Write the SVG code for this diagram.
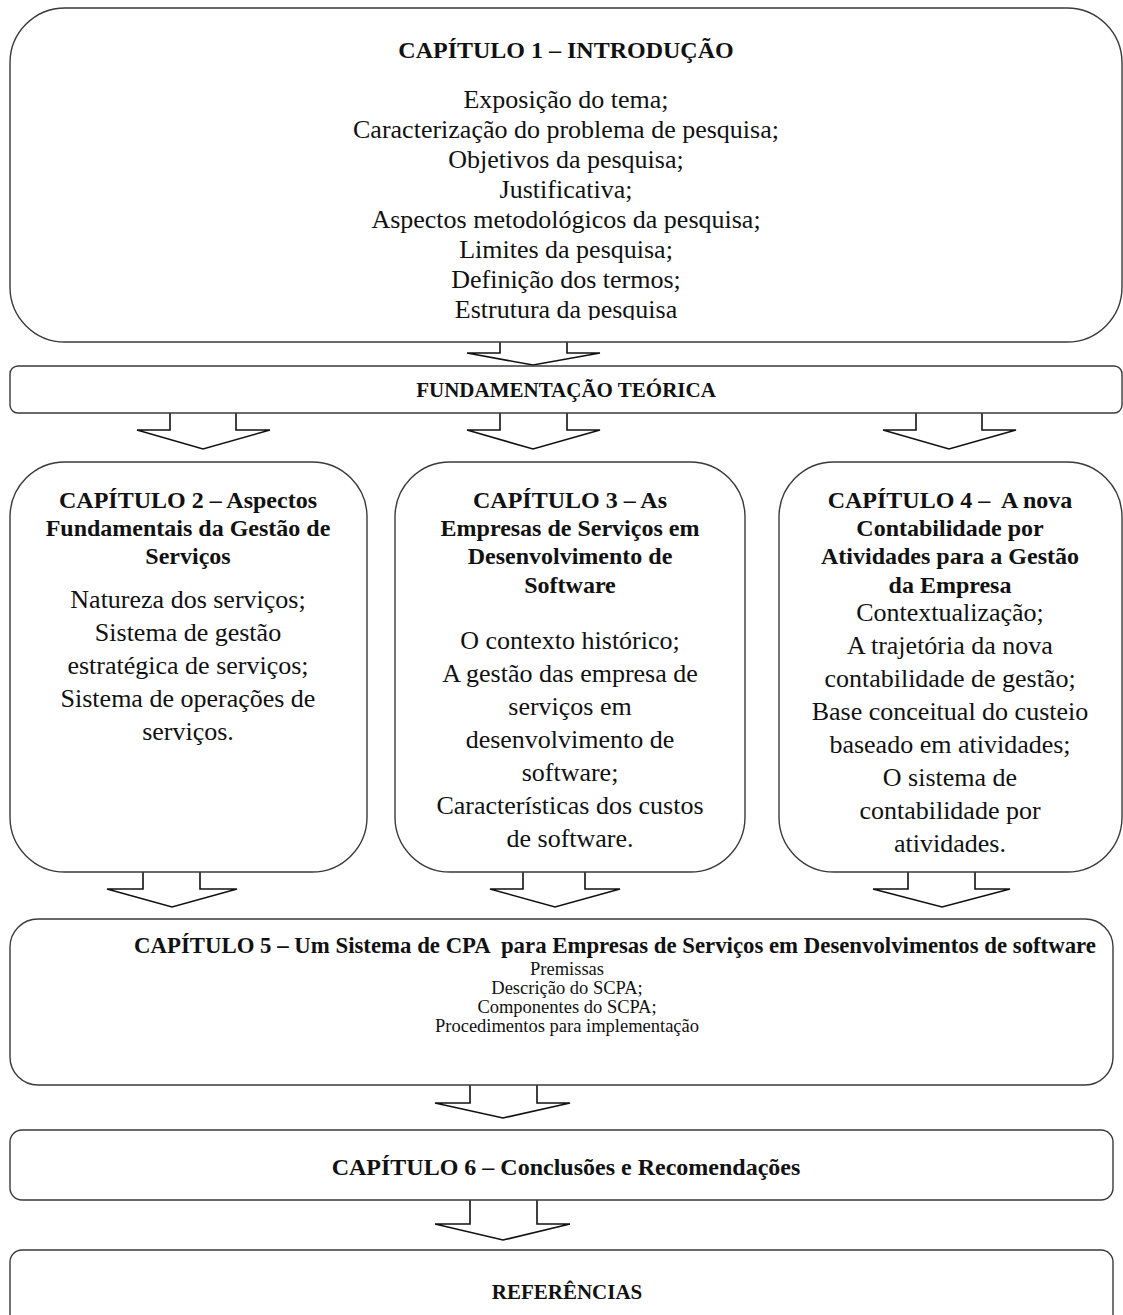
<svg xmlns="http://www.w3.org/2000/svg" width="1123" height="1315" viewBox="0 0 1123 1315">
  <style>
    .box { fill: #ffffff; stroke: #3a3a3a; stroke-width: 1.4; }
    .arrow { fill: #ffffff; stroke: #111111; stroke-width: 1.6; stroke-linejoin: miter; }
    text { font-family: "Liberation Serif", "Times New Roman", serif; fill: #111111; text-anchor: middle; }
    .h { font-weight: bold; font-size: 24px; }
    .b { font-size: 26px; }
    .s { font-size: 18.5px; }
    .m { font-weight: bold; font-size: 21px; }
    .h5 { font-weight: bold; font-size: 22.8px; }
    .h6 { font-weight: bold; font-size: 24px; }
  </style>
  <defs>
    <clipPath id="clip-intro">
      <rect x="10" y="8" width="1112" height="312"/>
    </clipPath>
  </defs>
  <rect x="0" y="0" width="1123" height="1315" fill="#ffffff"/>

  <!-- block arrows between stages -->
  <g id="connectors">
    <path class="arrow" d="M500 342 V353 H467 L533 365 L600 353 H567 V342"/>
    <path class="arrow" d="M170 413 V430 H137 L203 449 L270 430 H236 V413"/>
    <path class="arrow" d="M500 413 V430 H467 L533 449 L600 430 H567 V413"/>
    <path class="arrow" d="M916 413 V430 H883 L949 449 L1016 430 H982 V413"/>
    <path class="arrow" d="M143 872 V889 H107 L172 907 L237 889 H200 V872"/>
    <path class="arrow" d="M523 872 V889 H490 L555 907 L620 889 H585 V872"/>
    <path class="arrow" d="M908 872 V889 H873 L942 907 L1010 889 H975 V872"/>
    <path class="arrow" d="M470 1085 V1103 H435 L503 1118 L570 1103 H537 V1085"/>
    <path class="arrow" d="M470 1200 V1224 H435 L503 1240 L570 1224 H537 V1200"/>
  </g>

  <g id="cap1">
    <rect class="box" x="10" y="8" width="1112" height="334" rx="55" ry="55"/>
    <text class="h" x="566" y="58">CAPÍTULO 1 – INTRODUÇÃO</text>
    <g clip-path="url(#clip-intro)">
      <text class="b" x="566" y="108">Exposição do tema;</text>
      <text class="b" x="566" y="138">Caracterização do problema de pesquisa;</text>
      <text class="b" x="566" y="168">Objetivos da pesquisa;</text>
      <text class="b" x="566" y="198">Justificativa;</text>
      <text class="b" x="566" y="228">Aspectos metodológicos da pesquisa;</text>
      <text class="b" x="566" y="258">Limites da pesquisa;</text>
      <text class="b" x="566" y="288">Definição dos termos;</text>
      <text class="b" x="566" y="318">Estrutura da pesquisa</text>
    </g>
  </g>

  <g id="fundamentacao">
    <rect class="box" x="10" y="366" width="1112" height="47" rx="8" ry="8"/>
    <text class="m" x="566" y="397">FUNDAMENTAÇÃO TEÓRICA</text>
  </g>

  <g id="cap2">
    <rect class="box" x="10" y="462" width="357" height="410" rx="55" ry="55"/>
    <text class="h" x="188" y="508">CAPÍTULO 2 – Aspectos</text>
    <text class="h" x="188" y="536">Fundamentais da Gestão de</text>
    <text class="h" x="188" y="564">Serviços</text>
    <text class="b" x="188" y="608">Natureza dos serviços;</text>
    <text class="b" x="188" y="641">Sistema de gestão</text>
    <text class="b" x="188" y="674">estratégica de serviços;</text>
    <text class="b" x="188" y="707">Sistema de operações de</text>
    <text class="b" x="188" y="740">serviços.</text>
  </g>

  <g id="cap3">
    <rect class="box" x="395" y="462" width="350" height="410" rx="55" ry="55"/>
    <text class="h" x="570" y="508">CAPÍTULO 3 – As</text>
    <text class="h" x="570" y="536">Empresas de Serviços em</text>
    <text class="h" x="570" y="564">Desenvolvimento de</text>
    <text class="h" x="570" y="593">Software</text>
    <text class="b" x="570" y="649">O contexto histórico;</text>
    <text class="b" x="570" y="682">A gestão das empresa de</text>
    <text class="b" x="570" y="715">serviços em</text>
    <text class="b" x="570" y="748">desenvolvimento de</text>
    <text class="b" x="570" y="781">software;</text>
    <text class="b" x="570" y="814">Características dos custos</text>
    <text class="b" x="570" y="847">de software.</text>
  </g>

  <g id="cap4">
    <rect class="box" x="779" y="462" width="343" height="410" rx="55" ry="55"/>
    <text class="h" x="950" y="508" xml:space="preserve">CAPÍTULO 4 –  A nova</text>
    <text class="h" x="950" y="536">Contabilidade por</text>
    <text class="h" x="950" y="564">Atividades para a Gestão</text>
    <text class="h" x="950" y="593">da Empresa</text>
    <text class="b" x="950" y="621">Contextualização;</text>
    <text class="b" x="950" y="654">A trajetória da nova</text>
    <text class="b" x="950" y="687">contabilidade de gestão;</text>
    <text class="b" x="950" y="720">Base conceitual do custeio</text>
    <text class="b" x="950" y="753">baseado em atividades;</text>
    <text class="b" x="950" y="786">O sistema de</text>
    <text class="b" x="950" y="819">contabilidade por</text>
    <text class="b" x="950" y="852">atividades.</text>
  </g>

  <g id="cap5">
    <rect class="box" x="10" y="919" width="1103" height="166" rx="28" ry="28"/>
    <text class="h5" x="615" y="953" xml:space="preserve">CAPÍTULO 5 – Um Sistema de CPA  para Empresas de Serviços em Desenvolvimentos de software</text>
    <text class="s" x="567" y="975">Premissas</text>
    <text class="s" x="567" y="994">Descrição do SCPA;</text>
    <text class="s" x="567" y="1013">Componentes do SCPA;</text>
    <text class="s" x="567" y="1032">Procedimentos para implementação</text>
  </g>

  <g id="cap6">
    <rect class="box" x="10" y="1130" width="1103" height="70" rx="12" ry="12"/>
    <text class="h6" x="566" y="1175">CAPÍTULO 6 – Conclusões e Recomendações</text>
  </g>

  <g id="referencias">
    <rect class="box" x="10" y="1250" width="1103" height="80" rx="12" ry="12"/>
    <text class="m" x="567" y="1299">REFERÊNCIAS</text>
  </g>
</svg>
